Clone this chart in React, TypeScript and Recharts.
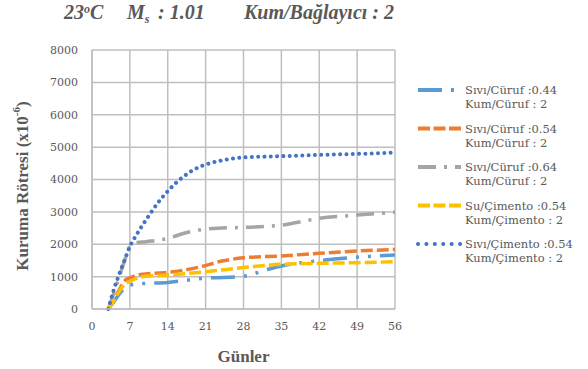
import React from 'react';
import { LineChart, Line, XAxis, YAxis, CartesianGrid, Legend } from 'recharts';

// ---- axes ----
const xTicks = [0, 7, 14, 21, 28, 35, 42, 49, 56];
const yTicks = [0, 1000, 2000, 3000, 4000, 5000, 6000, 7000, 8000];

// ---- series: Sıvı/Cüruf 0.44 ----
const slag044Days = [3, 4, 5, 6, 7, 8, 10, 14, 17, 21, 28, 32, 35, 42, 49, 56];
const slag044Values = [0, 220, 450, 640, 730, 765, 790, 820, 880, 950, 1010, 1200, 1330, 1490, 1600, 1670];

// ---- series: Sıvı/Cüruf 0.54 ----
const slag054Days = [3, 4, 5, 6, 7, 9, 14, 20, 24, 28, 35, 42, 49, 56];
const slag054Values = [0, 280, 580, 870, 960, 1070, 1130, 1300, 1480, 1580, 1640, 1720, 1790, 1840];

// ---- series: Sıvı/Cüruf 0.64 ----
const slag064Days = [3, 4, 5, 6, 7, 8, 10, 14, 17, 21, 24, 28, 35, 42, 49, 56];
const slag064Values = [0, 480, 980, 1480, 1930, 2040, 2080, 2180, 2340, 2470, 2500, 2520, 2590, 2800, 2900, 2990];

// ---- series: Su/Çimento 0.54 ----
const water054Days = [3, 4, 5, 6, 7, 8, 10, 14, 21, 28, 35, 42, 49, 56];
const water054Values = [0, 250, 530, 760, 850, 930, 1010, 1050, 1150, 1280, 1380, 1410, 1430, 1460];

// ---- series: Sıvı/Çimento 0.54 ----
const cement054Days = [3, 4, 5, 6, 7, 8, 9, 10, 11, 12, 13, 14, 15, 16, 17, 18, 19, 20, 21, 24, 28, 35, 42, 49, 56];
const cement054Values = [0, 580, 1060, 1500, 1930, 2230, 2500, 2760, 3000, 3240, 3450, 3640, 3810, 3970, 4100, 4220, 4320, 4400, 4460, 4590, 4680, 4720, 4760, 4790, 4830];

const toPoints = (days: number[], values: number[]) => days.map((d, i) => ({ day: d, value: values[i] }));

const series = [
  { name: 'Sıvı/Cüruf :0.44', line2: 'Kum/Cüruf : 2', data: toPoints(slag044Days, slag044Values), color: '#5B9BD5', dash: '24 9 3 9 3 9', width: 3.5, cap: 'butt', legendDash: '24 9 3 9' },
  { name: 'Sıvı/Cüruf :0.54', line2: 'Kum/Cüruf : 2', data: toPoints(slag054Days, slag054Values), color: '#ED7D31', dash: '12 4', width: 3.5, cap: 'butt', legendDash: '12 3.5' },
  { name: 'Sıvı/Cüruf :0.64', line2: 'Kum/Cüruf : 2', data: toPoints(slag064Days, slag064Values), color: '#A5A5A5', dash: '18 8 3 8', width: 3.5, cap: 'butt', legendDash: '18 8 3 8' },
  { name: 'Su/Çimento :0.54', line2: 'Kum/Çimento : 2', data: toPoints(water054Days, water054Values), color: '#FFC000', dash: '12 4', width: 3.5, cap: 'butt', legendDash: '12 3.5' },
  { name: 'Sıvı/Çimento :0.54', line2: 'Kum/Çimento : 2', data: toPoints(cement054Days, cement054Values), color: '#4472C4', dash: '0.01 6.3', width: 4, cap: 'round', legendDash: '0.01 8.4' },
];

const FONT = 'Liberation Serif, Times New Roman, serif';
const REG = 'DejaVu Serif, serif';
const TEXT = '#595959';
const GRID = '#bfbfbf';

const renderLegend = (props: any) => {
  const payload = [...(props.payload || [])].sort(
    (a: any, b: any) => series.findIndex((s) => s.name === a.value) - series.findIndex((s) => s.name === b.value)
  );
  return (
    <svg width={175} height={200} style={{ display: 'block' }}>
      {payload.map((p: any, i: number) => {
        const s = series.find((x) => x.name === p.value);
        if (!s) return null;
        const y = 10 + i * 38.5;
        return (
          <g key={s.name}>
            <line x1={5} x2={48} y1={y} y2={y} stroke={s.color} strokeWidth={4}
              strokeDasharray={s.legendDash} strokeLinecap={s.cap as any} />
            <text x={52} y={y + 4} style={{ fontFamily: REG }} fontSize={11.5} fill={TEXT}>{s.name}</text>
            <text x={52} y={y + 18} style={{ fontFamily: REG }} fontSize={11.5} fill={TEXT}>{s.line2}</text>
          </g>
        );
      })}
    </svg>
  );
};

export default function App() {
  return (
    <div style={{ position: 'absolute', left: 0, top: 0, width: 588, height: 369, background: '#fff' }}>
      <LineChart width={588} height={369} margin={{ top: 50, right: 193, bottom: 30, left: 0 }}>
        <CartesianGrid stroke={GRID} strokeWidth={1.5} />
        <XAxis
          dataKey="day"
          type="number"
          domain={[0, 56]}
          ticks={xTicks}
          height={30}
          tickSize={0}
          tickMargin={13}
          axisLine={{ stroke: GRID, strokeWidth: 1.5 }}
          tick={{ fill: TEXT, fontSize: 11, fontFamily: REG, style: { fontFamily: REG } }}
          allowDuplicatedCategory={false}
        />
        <YAxis
          type="number"
          domain={[0, 8000]}
          ticks={yTicks}
          width={92}
          tickSize={0}
          tickMargin={14}
          axisLine={{ stroke: GRID, strokeWidth: 1.5 }}
          tick={{ fill: TEXT, fontSize: 11, fontFamily: REG, style: { fontFamily: REG } }}
        />
        {series.map((s) => (
          <Line
            key={s.name}
            data={s.data}
            dataKey="value"
            name={s.name}
            type="monotone"
            stroke={s.color}
            strokeWidth={s.width}
            strokeDasharray={s.dash}
            strokeLinecap={s.cap as any}
            dot={false}
            activeDot={false}
            isAnimationActive={false}
          />
        ))}
        <Legend
          layout="vertical"
          align="center"
          verticalAlign="middle"
          content={renderLegend}
          wrapperStyle={{ position: 'absolute', left: 413, top: 80, width: 175, height: 200 }}
        />
        <text x={64} y={19} style={{ fontFamily: FONT }} fontWeight="bold" fontStyle="italic" fontSize={20} fill={TEXT}>
          <tspan>23</tspan>
          <tspan dy={-6} fontSize={12}>o</tspan>
          <tspan dy={6}>C</tspan>
          <tspan x={127}>M</tspan>
          <tspan dy={4} fontSize={12}>s</tspan>
          <tspan dy={-4} x={158}>: 1.01</tspan>
          <tspan x={244}>Kum/Bağlayıcı : 2</tspan>
        </text>
        <text
          x={22}
          y={186}
          transform="rotate(-90 22 186)"
          textAnchor="middle"
          dominantBaseline="central"
          style={{ fontFamily: FONT }}
          fontWeight="bold"
          fontSize={17}
          fill={TEXT}
        >
          Kuruma  Rötresi (x10<tspan dy={-6} fontSize={11}>-6</tspan><tspan dy={6}>)</tspan>
        </text>
        <text x={243.5} y={362} textAnchor="middle" style={{ fontFamily: FONT }} fontWeight="bold" fontSize={17} fill={TEXT}>
          Günler
        </text>
      </LineChart>
    </div>
  );
}
